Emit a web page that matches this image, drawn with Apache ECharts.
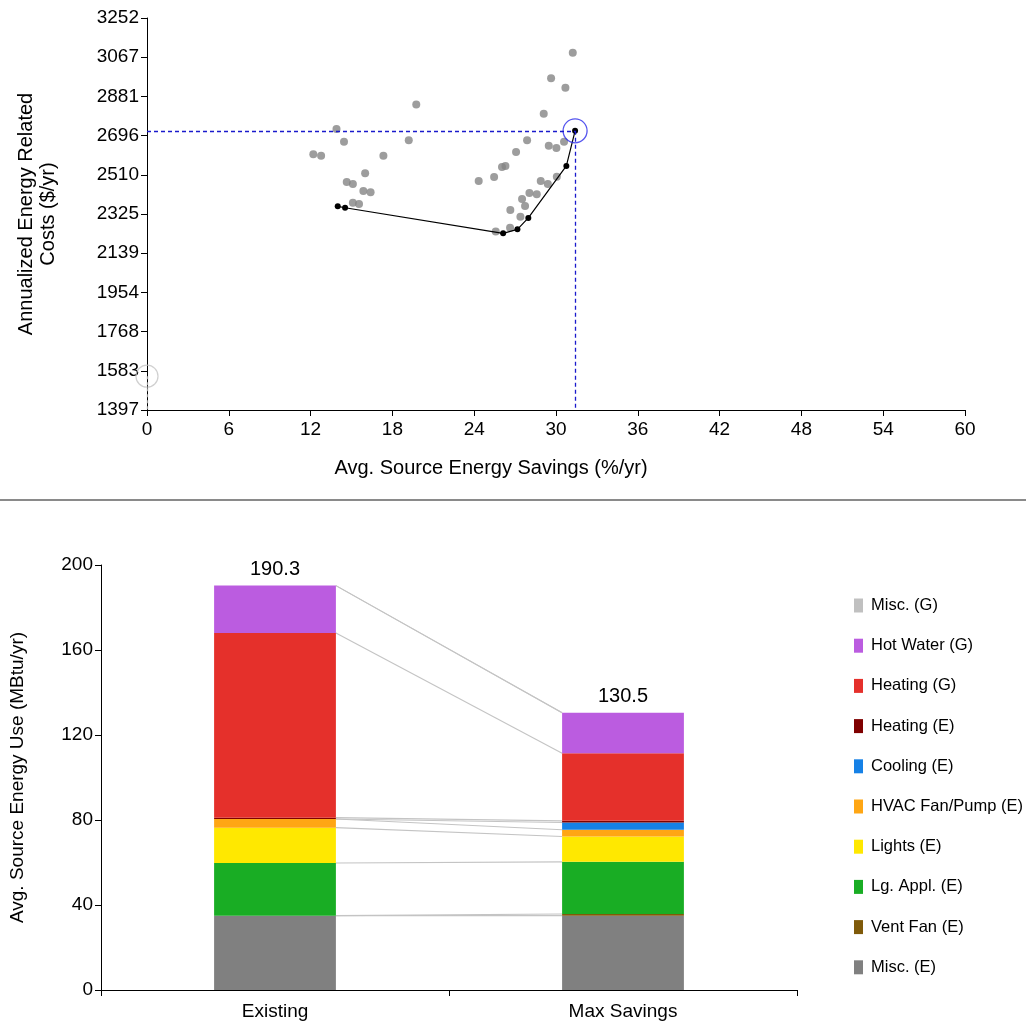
<!DOCTYPE html>
<html>
<head>
<meta charset="utf-8">
<script src="https://cdn.jsdelivr.net/npm/echarts@6/dist/echarts.min.js"></script>
<style>html,body{margin:0;padding:0;background:#fff;}#c{width:1026px;height:1023px;}</style>
</head>
<body>
<div id="c"></div>
<script>
// ---------- Top chart data ----------
const optionPoints = [
  [12.2,2607],[12.77,2600],[13.9,2727],[14.45,2666],[17.34,2600],[19.2,2673],[19.75,2843],
  [16.0,2517],[14.65,2476],[15.1,2466],[15.87,2433],[16.4,2427],[15.1,2378],[15.55,2372],
  [31.23,3088],[29.64,2967],[30.69,2922],[29.1,2799],[27.88,2673],[29.47,2648],[30.03,2637],
  [30.59,2666],[27.07,2618],[26.04,2547],[26.29,2552],[24.33,2481],[25.46,2500],[28.88,2481],
  [29.4,2466],[30.06,2501],[28.05,2424],[28.59,2418],[27.51,2395],[27.73,2362],[26.65,2343],
  [27.39,2312],[26.63,2260],[25.58,2242]
];
const frontierPoints = [
  [13.99,2361],[14.53,2354],[26.12,2233],[27.17,2252],[27.97,2306],[30.76,2552],[31.4,2718]
];
const selectedPoint = [31.4, 2718];
const referencePoint = [0, 1557];
const costMin = 1397, costMax = 3252, costStep = 185.5;
const savMin = 0, savMax = 60, savStep = 6;

// ---------- Bottom chart data ----------
const packages = ['Existing', 'Max Savings'];
const endUses = ['Misc. (E)','Vent Fan (E)','Lg. Appl. (E)','Lights (E)','HVAC Fan/Pump (E)','Cooling (E)','Heating (E)','Heating (G)','Hot Water (G)','Misc. (G)'];
const endUseColors = ['#808080','#7f5a0a','#19ad24','#ffe800','#ffa614','#1681e6','#7f0000','#e5302b','#bb5ce0','#c0c0c0'];
const existingUse = [35.0, 0.0, 24.8, 16.6, 4.1, 0.0, 0.6, 86.9, 22.3, 0.0];
const maxSavingsUse = [35.0, 0.8, 24.5, 11.9, 3.2, 3.4, 0.8, 31.8, 19.1, 0.0];

const FONT = 'Liberation Sans';
const totals = [existingUse, maxSavingsUse].map(a => a.reduce((s, v) => s + v, 0));

// cumulative tops for connector lines
const connectors = [];
let ce = 0, cm = 0;
for (let i = 0; i < endUses.length; i++) {
  ce += existingUse[i]; cm += maxSavingsUse[i];
  connectors.push([0, +ce.toFixed(3), +cm.toFixed(3)]);
}

const BAR_FRAC = 0.35;

const barSeries = endUses.map((name, i) => ({
  name: name,
  type: 'bar',
  stack: 'use',
  xAxisIndex: 1, yAxisIndex: 1,
  barWidth: (BAR_FRAC * 100) + '%',
  itemStyle: { color: endUseColors[i] },
  data: [existingUse[i], maxSavingsUse[i]],
  label: i === endUses.length - 1 ? {
    show: true, position: 'top', distance: 6,
    formatter: p => totals[p.dataIndex].toFixed(1),
    fontFamily: FONT, fontSize: 20, color: '#000'
  } : { show: false },
  emphasis: { disabled: true },
  z: 3
}));

const axisLabelStyle = { fontFamily: FONT, fontSize: 19, color: '#000' };
const axisLineStyle = { lineStyle: { color: '#000', width: 1 } };

const option = {
  animation: false,
  backgroundColor: '#fff',
  grid: [
    { left: 147, right: 61, top: 18, height: 392, containLabel: false },
    { left: 100, right: 229, top: 565, height: 425, containLabel: false }
  ],
  xAxis: [
    {
      type: 'value', gridIndex: 0, min: savMin, max: savMax, interval: savStep,
      axisLine: axisLineStyle, axisTick: { show: true, length: 6, lineStyle: { color: '#000' } },
      axisLabel: Object.assign({ margin: 10 }, axisLabelStyle),
      splitLine: { show: false },
      name: 'Avg. Source Energy Savings (%/yr)', nameLocation: 'middle', nameGap: 48,
      nameTextStyle: { fontFamily: FONT, fontSize: 20, color: '#000', padding: [0, 130, 0, 0] }
    },
    {
      type: 'category', gridIndex: 1, data: packages,
      axisLine: axisLineStyle, axisTick: { show: true, length: 6, lineStyle: { color: '#000' } },
      axisLabel: Object.assign({ margin: 12 }, axisLabelStyle),
      splitLine: { show: false }
    }
  ],
  yAxis: [
    {
      type: 'value', gridIndex: 0, min: costMin, max: costMax, interval: costStep,
      axisLine: { show: true, lineStyle: { color: '#000', width: 1 } },
      axisTick: { show: true, length: 6, lineStyle: { color: '#000' } },
      axisLabel: Object.assign({ margin: 8, formatter: v => String(Math.round(v)) }, axisLabelStyle),
      splitLine: { show: false },
      name: 'Annualized Energy Related\nCosts ($/yr)', nameLocation: 'middle', nameGap: 88,
      nameTextStyle: { fontFamily: FONT, fontSize: 20, color: '#000', lineHeight: 22 }
    },
    {
      type: 'value', gridIndex: 1, min: 0, max: 200, interval: 40,
      axisLine: { show: true, lineStyle: { color: '#000', width: 1 } },
      axisTick: { show: true, length: 6, lineStyle: { color: '#000' } },
      axisLabel: Object.assign({ margin: 8 }, axisLabelStyle),
      splitLine: { show: false },
      name: 'Avg. Source Energy Use (MBtu/yr)', nameLocation: 'middle', nameGap: 74,
      nameTextStyle: { fontFamily: FONT, fontSize: 19, color: '#000', padding: [0, 0, 0, 0] }
    }
  ],
  legend: {
    orient: 'vertical', left: 854, top: 597, padding: 0,
    itemWidth: 9, itemHeight: 14, itemGap: 23.2, icon: 'rect',
    textStyle: { fontFamily: FONT, fontSize: 16.5, color: '#000', lineHeight: 17, padding: [0, 0, 0, 3] },
    data: endUses.slice().reverse(),
    selectedMode: false
  },
  graphic: [
    { type: 'line', shape: { x1: 0, y1: 500, x2: 1026, y2: 500 }, style: { stroke: '#8a8a8a', lineWidth: 2 } }
  ],
  series: [
    {
      name: 'reference', type: 'scatter', xAxisIndex: 0, yAxisIndex: 0, clip: false,
      symbolSize: 22, data: [referencePoint],
      itemStyle: { color: 'rgba(0,0,0,0)', borderColor: '#c4c4c4', borderWidth: 1.2 },
      markLine: {
        silent: true, symbol: 'none', label: { show: false },
        lineStyle: { color: '#9a9a9a', type: [3, 3], width: 1.2 },
        data: [[{ coord: referencePoint }, { coord: [referencePoint[0], costMin] }]]
      },
      z: 1
    },
    {
      name: 'options', type: 'scatter', xAxisIndex: 0, yAxisIndex: 0,
      symbolSize: 8, data: optionPoints,
      itemStyle: { color: '#858585' }, z: 2
    },
    {
      name: 'frontier', type: 'line', xAxisIndex: 0, yAxisIndex: 0,
      data: frontierPoints, symbol: 'circle', symbolSize: 6, showSymbol: true,
      lineStyle: { color: '#000', width: 1.2 }, itemStyle: { color: '#000' }, z: 3
    },
    {
      name: 'selected', type: 'scatter', xAxisIndex: 0, yAxisIndex: 0, clip: false,
      symbolSize: 24, data: [selectedPoint],
      itemStyle: { color: 'rgba(0,0,0,0)', borderColor: '#2b2bea', borderWidth: 1.3 },
      markLine: {
        silent: true, symbol: 'none', label: { show: false },
        lineStyle: { color: '#1a1acc', type: [4, 3], width: 1.3 },
        data: [
          [{ coord: [savMin, selectedPoint[1]] }, { coord: selectedPoint }],
          [{ coord: selectedPoint }, { coord: [selectedPoint[0], costMin] }]
        ]
      },
      z: 4
    },
    {
      name: 'connectors', type: 'custom', xAxisIndex: 1, yAxisIndex: 1,
      data: connectors, encode: { x: 0, y: 1 }, silent: true, z: 2,
      renderItem: function (params, api) {
        const p0 = api.coord([0, api.value(1)]);
        const p1 = api.coord([1, api.value(2)]);
        const half = api.size([1, 0])[0] * BAR_FRAC / 2;
        return {
          type: 'line',
          shape: { x1: p0[0] + half, y1: p0[1], x2: p1[0] - half, y2: p1[1] },
          style: { stroke: '#c4c4c4', lineWidth: 1.1 }
        };
      }
    }
  ].concat(barSeries)
};

const chart = echarts.init(document.getElementById('c'), null, { renderer: 'canvas' });
chart.setOption(option);
</script>
</body>
</html>
